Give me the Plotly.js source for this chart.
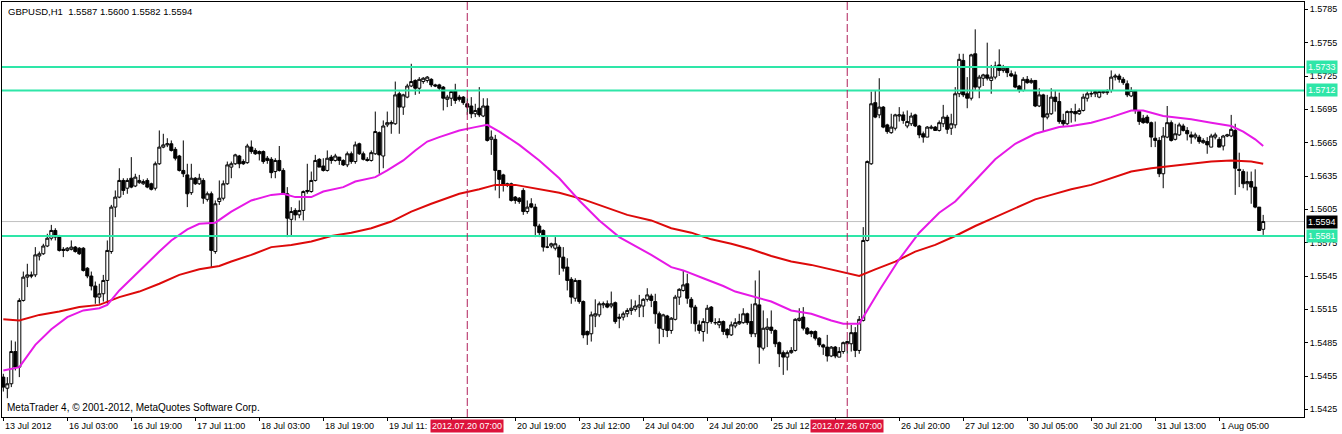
<!DOCTYPE html>
<html>
<head>
<meta charset="utf-8">
<script src="https://cdn.plot.ly/plotly-3.0.1.min.js"></script>
<style>html,body{margin:0;padding:0;background:#fff;}#chart{width:1342px;height:434px;}</style>
</head>
<body>
<div id="chart"></div>
<script>
// ---- GBPUSD H1 bars ----
const open = [
1.5454,1.5444,1.5448,1.5477,1.5463,1.5523,1.5544,1.5546,1.5546,1.5563,
1.5565,1.5572,1.5579,1.5586,1.5580,1.5569,1.5568,1.5569,1.5571,1.5570,
1.5570,1.5552,1.5545,1.5536,1.5526,1.5529,1.5541,1.5567,1.5607,1.5616,
1.5631,1.5624,1.5633,1.5626,1.5629,1.5628,1.5631,1.5628,1.5624,1.5646,
1.5661,1.5663,1.5664,1.5659,1.5653,1.5640,1.5636,1.5620,1.5633,1.5628,
1.5631,1.5614,1.5619,1.5567,1.5612,1.5615,1.5628,1.5643,1.5646,1.5653,
1.5648,1.5647,1.5661,1.5658,1.5657,1.5657,1.5651,1.5650,1.5639,1.5649,
1.5640,1.5619,1.5596,1.5604,1.5600,1.5604,1.5621,1.5621,1.5631,1.5650,
1.5644,1.5640,1.5652,1.5649,1.5652,1.5649,1.5645,1.5655,1.5648,1.5664,
1.5655,1.5650,1.5649,1.5655,1.5674,1.5653,1.5681,1.5682,1.5682,1.5709,
1.5697,1.5706,1.5716,1.5721,1.5714,1.5720,1.5721,1.5722,1.5717,1.5717,
1.5715,1.5704,1.5705,1.5712,1.5706,1.5706,1.5700,1.5698,1.5691,1.5696,
1.5689,1.5698,1.5668,1.5668,1.5640,1.5636,1.5628,1.5628,1.5616,1.5615,
1.5622,1.5603,1.5610,1.5607,1.5590,1.5586,1.5571,1.5572,1.5570,1.5571,
1.5562,1.5553,1.5542,1.5525,1.5541,1.5522,1.5495,1.5493,1.5509,1.5510,
1.5519,1.5520,1.5518,1.5521,1.5508,1.5508,1.5511,1.5514,1.5515,1.5517,
1.5518,1.5524,1.5527,1.5522,1.5511,1.5497,1.5509,1.5496,1.5506,1.5526,
1.5532,1.5538,1.5524,1.5517,1.5501,1.5495,1.5503,1.5517,1.5503,1.5501,
1.5504,1.5497,1.5492,1.5500,1.5502,1.5503,1.5511,1.5504,1.5493,1.5519,
1.5480,1.5497,1.5499,1.5496,1.5485,1.5476,1.5472,1.5476,1.5478,1.5505,
1.5508,1.5498,1.5495,1.5495,1.5489,1.5483,1.5481,1.5473,1.5481,1.5472,
1.5477,1.5484,1.5484,1.5494,1.5478,1.5505,1.5577,1.5646,1.5701,1.5690,
1.5697,1.5681,1.5674,1.5678,1.5689,1.5690,1.5680,1.5682,1.5690,1.5680,
1.5673,1.5670,1.5678,1.5679,1.5676,1.5682,1.5688,1.5678,1.5681,1.5709,
1.5739,1.5709,1.5705,1.5745,1.5715,1.5723,1.5726,1.5721,1.5724,1.5735,
1.5730,1.5732,1.5727,1.5726,1.5716,1.5712,1.5722,1.5719,1.5721,1.5698,
1.5708,1.5688,1.5691,1.5706,1.5702,1.5685,1.5682,1.5692,1.5693,1.5691,
1.5694,1.5705,1.5709,1.5709,1.5706,1.5710,1.5710,1.5712,1.5724,1.5725,
1.5722,1.5718,1.5707,1.5712,1.5693,1.5687,1.5688,1.5683,1.5669,1.5667,
1.5637,1.5670,1.5683,1.5668,1.5672,1.5680,1.5676,1.5672,1.5670,1.5670,
1.5665,1.5666,1.5661,1.5670,1.5668,1.5662,1.5671,1.5671,1.5676,1.5641,
1.5639,1.5628,1.5630,1.5625,1.5607,1.5587
];
const high = [
1.5457,1.5454,1.5487,1.5486,1.5525,1.5549,1.5556,1.5549,1.5571,1.5567,
1.5574,1.5583,1.5591,1.5588,1.5582,1.5571,1.5571,1.5577,1.5572,1.5571,
1.5571,1.5553,1.5549,1.5540,1.5538,1.5546,1.5577,1.5609,1.5622,1.5642,
1.5633,1.5633,1.5652,1.5637,1.5636,1.5632,1.5633,1.5629,1.5648,1.5676,
1.5673,1.5669,1.5667,1.5661,1.5654,1.5667,1.5646,1.5646,1.5634,1.5637,
1.5633,1.5621,1.5621,1.5613,1.5631,1.5631,1.5648,1.5648,1.5655,1.5654,
1.5650,1.5664,1.5667,1.5660,1.5658,1.5658,1.5653,1.5652,1.5651,1.5662,
1.5642,1.5625,1.5607,1.5606,1.5613,1.5622,1.5646,1.5639,1.5654,1.5651,
1.5651,1.5658,1.5654,1.5655,1.5652,1.5650,1.5657,1.5657,1.5666,1.5665,
1.5657,1.5652,1.5658,1.5693,1.5675,1.5685,1.5693,1.5685,1.5720,1.5711,
1.5709,1.5718,1.5736,1.5722,1.5724,1.5724,1.5725,1.5723,1.5718,1.5718,
1.5716,1.5708,1.5712,1.5718,1.5708,1.5707,1.5705,1.5706,1.5700,1.5715,
1.5705,1.5705,1.5676,1.5672,1.5640,1.5637,1.5629,1.5629,1.5617,1.5616,
1.5624,1.5613,1.5615,1.5610,1.5592,1.5587,1.5580,1.5575,1.5580,1.5573,
1.5571,1.5561,1.5544,1.5543,1.5541,1.5523,1.5496,1.5513,1.5524,1.5522,
1.5522,1.5523,1.5531,1.5522,1.5511,1.5513,1.5516,1.5524,1.5523,1.5528,
1.5525,1.5534,1.5529,1.5529,1.5513,1.5511,1.5510,1.5508,1.5528,1.5534,
1.5550,1.5547,1.5526,1.5519,1.5505,1.5507,1.5519,1.5518,1.5507,1.5507,
1.5505,1.5498,1.5504,1.5507,1.5511,1.5516,1.5512,1.5520,1.5541,1.5550,
1.5514,1.5507,1.5514,1.5497,1.5486,1.5478,1.5478,1.5481,1.5507,1.5516,
1.5517,1.5499,1.5496,1.5496,1.5490,1.5484,1.5492,1.5482,1.5482,1.5481,
1.5486,1.5487,1.5501,1.5499,1.5509,1.5589,1.5649,1.5711,1.5712,1.5723,
1.5698,1.5682,1.5691,1.5691,1.5697,1.5693,1.5694,1.5692,1.5691,1.5681,
1.5675,1.5680,1.5681,1.5680,1.5685,1.5699,1.5690,1.5691,1.5715,1.5745,
1.5745,1.5724,1.5745,1.5767,1.5726,1.5727,1.5755,1.5735,1.5738,1.5749,
1.5735,1.5733,1.5730,1.5729,1.5717,1.5724,1.5725,1.5723,1.5721,1.5714,
1.5709,1.5708,1.5714,1.5712,1.5710,1.5691,1.5694,1.5696,1.5700,1.5696,
1.5709,1.5711,1.5712,1.5712,1.5712,1.5712,1.5713,1.5730,1.5727,1.5727,
1.5724,1.5721,1.5715,1.5712,1.5694,1.5690,1.5690,1.5684,1.5684,1.5670,
1.5679,1.5698,1.5685,1.5682,1.5683,1.5682,1.5679,1.5675,1.5674,1.5672,
1.5669,1.5670,1.5673,1.5674,1.5670,1.5672,1.5673,1.5690,1.5682,1.5656,
1.5641,1.5639,1.5639,1.5641,1.5607,1.5600
];
const low = [
1.5441,1.5435,1.5445,1.5460,1.5454,1.5522,1.5535,1.5543,1.5544,1.5559,
1.5564,1.5571,1.5577,1.5577,1.5567,1.5562,1.5567,1.5568,1.5566,1.5564,
1.5549,1.5543,1.5532,1.5520,1.5520,1.5522,1.5520,1.5565,1.5598,1.5615,
1.5618,1.5619,1.5624,1.5625,1.5628,1.5627,1.5624,1.5622,1.5622,1.5645,
1.5660,1.5661,1.5657,1.5649,1.5639,1.5634,1.5607,1.5618,1.5627,1.5627,
1.5610,1.5612,1.5553,1.5565,1.5609,1.5613,1.5627,1.5633,1.5645,1.5642,
1.5645,1.5646,1.5655,1.5654,1.5649,1.5646,1.5646,1.5633,1.5633,1.5639,
1.5618,1.5580,1.5581,1.5595,1.5597,1.5595,1.5619,1.5620,1.5630,1.5643,
1.5639,1.5639,1.5646,1.5648,1.5645,1.5644,1.5643,1.5646,1.5646,1.5654,
1.5649,1.5648,1.5648,1.5654,1.5637,1.5642,1.5679,1.5673,1.5681,1.5673,
1.5690,1.5705,1.5715,1.5708,1.5709,1.5718,1.5719,1.5715,1.5715,1.5712,
1.5694,1.5697,1.5698,1.5700,1.5702,1.5699,1.5690,1.5687,1.5688,1.5688,
1.5688,1.5666,1.5654,1.5622,1.5615,1.5621,1.5625,1.5612,1.5610,1.5610,
1.5600,1.5601,1.5606,1.5580,1.5580,1.5567,1.5570,1.5570,1.5568,1.5546,
1.5549,1.5532,1.5520,1.5522,1.5520,1.5489,1.5483,1.5486,1.5499,1.5508,
1.5516,1.5516,1.5516,1.5502,1.5498,1.5505,1.5508,1.5510,1.5513,1.5508,
1.5508,1.5522,1.5517,1.5502,1.5484,1.5490,1.5490,1.5493,1.5505,1.5519,
1.5531,1.5520,1.5502,1.5495,1.5493,1.5486,1.5493,1.5502,1.5501,1.5498,
1.5492,1.5489,1.5491,1.5498,1.5501,1.5502,1.5501,1.5490,1.5490,1.5466,
1.5478,1.5481,1.5493,1.5481,1.5463,1.5456,1.5460,1.5475,1.5477,1.5504,
1.5496,1.5492,1.5490,1.5487,1.5481,1.5474,1.5468,1.5472,1.5471,1.5472,
1.5475,1.5475,1.5477,1.5472,1.5475,1.5504,1.5576,1.5645,1.5687,1.5687,
1.5678,1.5673,1.5673,1.5676,1.5684,1.5682,1.5678,1.5680,1.5679,1.5669,
1.5665,1.5670,1.5677,1.5676,1.5675,1.5679,1.5673,1.5672,1.5678,1.5706,
1.5706,1.5696,1.5703,1.5712,1.5705,1.5716,1.5721,1.5709,1.5722,1.5725,
1.5728,1.5724,1.5724,1.5714,1.5710,1.5711,1.5718,1.5718,1.5697,1.5697,
1.5675,1.5686,1.5690,1.5693,1.5682,1.5680,1.5681,1.5683,1.5684,1.5690,
1.5693,1.5702,1.5706,1.5706,1.5705,1.5709,1.5708,1.5710,1.5721,1.5719,
1.5717,1.5706,1.5706,1.5691,1.5681,1.5682,1.5682,1.5661,1.5661,1.5634,
1.5624,1.5669,1.5666,1.5667,1.5671,1.5675,1.5667,1.5664,1.5668,1.5664,
1.5664,1.5655,1.5661,1.5668,1.5661,1.5658,1.5670,1.5670,1.5618,1.5625,
1.5624,1.5622,1.5610,1.5606,1.5586,1.5582
];
const close = [
1.5445,1.5448,1.5477,1.5463,1.5523,1.5544,1.5546,1.5545,1.5564,1.5565,
1.5572,1.5579,1.5586,1.5580,1.5568,1.5568,1.5570,1.5571,1.5567,1.5565,
1.5550,1.5545,1.5536,1.5526,1.5529,1.5541,1.5568,1.5607,1.5616,1.5631,
1.5622,1.5631,1.5625,1.5634,1.5631,1.5630,1.5625,1.5623,1.5646,1.5661,
1.5663,1.5664,1.5658,1.5651,1.5640,1.5637,1.5619,1.5633,1.5628,1.5633,
1.5615,1.5619,1.5568,1.5610,1.5615,1.5628,1.5645,1.5646,1.5654,1.5646,
1.5646,1.5662,1.5657,1.5655,1.5655,1.5648,1.5649,1.5638,1.5649,1.5640,
1.5619,1.5597,1.5603,1.5600,1.5604,1.5621,1.5622,1.5631,1.5649,1.5643,
1.5640,1.5651,1.5649,1.5653,1.5649,1.5645,1.5655,1.5648,1.5663,1.5655,
1.5650,1.5649,1.5656,1.5675,1.5654,1.5680,1.5683,1.5683,1.5708,1.5697,
1.5708,1.5716,1.5720,1.5714,1.5722,1.5723,1.5724,1.5717,1.5716,1.5714,
1.5705,1.5706,1.5711,1.5703,1.5704,1.5701,1.5697,1.5691,1.5694,1.5690,
1.5698,1.5667,1.5670,1.5640,1.5632,1.5627,1.5627,1.5613,1.5613,1.5612,
1.5603,1.5607,1.5607,1.5590,1.5584,1.5571,1.5571,1.5574,1.5574,1.5562,
1.5552,1.5541,1.5526,1.5541,1.5522,1.5492,1.5492,1.5510,1.5511,1.5520,
1.5520,1.5517,1.5520,1.5504,1.5507,1.5511,1.5514,1.5516,1.5518,1.5519,
1.5524,1.5528,1.5523,1.5511,1.5498,1.5510,1.5496,1.5507,1.5526,1.5533,
1.5537,1.5525,1.5517,1.5502,1.5496,1.5504,1.5516,1.5504,1.5503,1.5504,
1.5495,1.5492,1.5501,1.5503,1.5504,1.5511,1.5503,1.5493,1.5520,1.5481,
1.5498,1.5499,1.5496,1.5484,1.5475,1.5472,1.5476,1.5478,1.5506,1.5507,
1.5498,1.5493,1.5493,1.5489,1.5483,1.5481,1.5473,1.5481,1.5473,1.5477,
1.5485,1.5486,1.5494,1.5478,1.5506,1.5577,1.5648,1.5700,1.5688,1.5697,
1.5679,1.5675,1.5679,1.5690,1.5690,1.5685,1.5684,1.5689,1.5680,1.5672,
1.5670,1.5679,1.5679,1.5676,1.5683,1.5688,1.5677,1.5682,1.5709,1.5740,
1.5708,1.5705,1.5744,1.5715,1.5724,1.5726,1.5723,1.5724,1.5734,1.5730,
1.5732,1.5728,1.5725,1.5715,1.5712,1.5722,1.5719,1.5721,1.5698,1.5708,
1.5688,1.5691,1.5706,1.5702,1.5684,1.5682,1.5693,1.5693,1.5691,1.5694,
1.5706,1.5709,1.5709,1.5711,1.5711,1.5711,1.5711,1.5724,1.5725,1.5722,
1.5719,1.5708,1.5712,1.5694,1.5684,1.5683,1.5683,1.5670,1.5667,1.5637,
1.5671,1.5683,1.5667,1.5673,1.5681,1.5676,1.5673,1.5670,1.5672,1.5666,
1.5667,1.5663,1.5671,1.5672,1.5661,1.5671,1.5672,1.5677,1.5642,1.5640,
1.5628,1.5630,1.5625,1.5607,1.5586,1.5594
];

const fastMaBars = [0,4,8,12,16,20,24,26,29,33,36,39,42,46,49,53,57,62,67,70,73,77,80,85,88,93,96,100,103,106,109,114,118,121,124,129,134,139,144,149,154,159,162,167,170,175,180,183,188,192,197,202,207,210,214,216,219,224,229,234,238,243,248,253,258,264,267,272,277,282,285,290,297,302,307,310,313,315];
const fastMa = [1.5460,1.5463,1.5483,1.5497,1.5508,1.5514,1.5516,1.5519,1.5532,1.5546,1.5557,1.5567,1.5577,1.5587,1.5592,1.5593,1.5603,1.5613,1.5618,1.5619,1.5616,1.5616,1.5621,1.5625,1.5630,1.5634,1.5640,1.5649,1.5658,1.5666,1.5670,1.5676,1.5679,1.5681,1.5675,1.5663,1.5649,1.5633,1.5613,1.5595,1.5580,1.5570,1.5564,1.5553,1.5550,1.5543,1.5536,1.5531,1.5526,1.5522,1.5514,1.5511,1.5505,1.5502,1.5502,1.5514,1.5532,1.5560,1.5584,1.5602,1.5612,1.5631,1.5650,1.5664,1.5673,1.5679,1.5680,1.5683,1.5688,1.5694,1.5694,1.5689,1.5686,1.5683,1.5680,1.5675,1.5668,1.5662];
const slowMaBars = [0,4,9,14,19,24,29,34,39,44,49,54,57,62,67,72,77,82,87,92,97,102,107,114,119,123,128,133,139,145,151,156,162,167,172,177,182,187,192,197,202,207,210,214,218,223,228,233,238,243,248,253,258,262,267,272,277,282,287,292,297,302,307,312,315];
const slowMa = [1.5506,1.5505,1.5510,1.5513,1.5517,1.5519,1.5526,1.5531,1.5538,1.5546,1.5551,1.5554,1.5558,1.5564,1.5571,1.5573,1.5576,1.5581,1.5584,1.5588,1.5594,1.5603,1.5610,1.5619,1.5623,1.5627,1.5627,1.5624,1.5620,1.5614,1.5606,1.5600,1.5595,1.5588,1.5584,1.5578,1.5574,1.5569,1.5563,1.5558,1.5555,1.5551,1.5548,1.5545,1.5551,1.5558,1.5567,1.5573,1.5581,1.5590,1.5598,1.5606,1.5614,1.5618,1.5623,1.5627,1.5633,1.5639,1.5642,1.5644,1.5646,1.5648,1.5649,1.5648,1.5646];

// ---- axis labels, levels, markers ----
const timeTickBars = [0,16,32,48,64,80,96,112,128,144,160,176,192,208,224,240,256,272,288,304];
const timeTickLabels = ['13 Jul 2012','16 Jul 03:00','16 Jul 19:00','17 Jul 11:00','18 Jul 03:00','18 Jul 19:00','19 Jul 11:','','20 Jul 19:00','23 Jul 12:00','24 Jul 04:00','24 Jul 20:00','25 Jul 12','','26 Jul 20:00','27 Jul 12:00','30 Jul 05:00','30 Jul 21:00','31 Jul 13:00','1 Aug 05:00'];
const priceTicks = [1.5425,1.5455,1.5485,1.5515,1.5545,1.5575,1.5605,1.5635,1.5665,1.5695,1.5725,1.5755,1.5785];
const levelLines = [1.5733,1.5712,1.5581];
const lastPrice = 1.5594;
const markerBars = [116,211];
const markerLabels = ['2012.07.20 07:00','2012.07.26 07:00'];
const headerText = 'GBPUSD,H1  1.5587 1.5600 1.5582 1.5594';
const footerText = 'MetaTrader 4, \u00a9 2001-2012, MetaQuotes Software Corp.';

const FONT = 'Liberation Sans, Arial, sans-serif';
const bars = close.map((_, i) => i);

const traces = [
  {
    type: 'candlestick', x: bars, open: open, high: high, low: low, close: close,
    increasing: {line: {color: '#000000', width: 1}, fillcolor: '#ffffff'},
    decreasing: {line: {color: '#000000', width: 1}, fillcolor: '#000000'},
    whiskerwidth: 0, hoverinfo: 'skip', showlegend: false
  },
  {type: 'scatter', mode: 'lines', x: slowMaBars, y: slowMa, line: {color: '#DD0A0A', width: 2}, hoverinfo: 'skip'},
  {type: 'scatter', mode: 'lines', x: fastMaBars, y: fastMa, line: {color: '#E619E6', width: 2}, hoverinfo: 'skip'}
];

const shapes = [];
shapes.push({type: 'line', layer: 'below', xref: 'paper', x0: 0, x1: 1, yref: 'y', y0: lastPrice, y1: lastPrice, line: {color: '#C0C0C0', width: 1}});
levelLines.forEach(v => shapes.push({type: 'line', xref: 'paper', x0: 0, x1: 1, yref: 'y', y0: v, y1: v, line: {color: '#2EE6A8', width: 2}}));
markerBars.forEach(b => shapes.push({type: 'line', xref: 'x', x0: b, x1: b, yref: 'paper', y0: 0, y1: 1, line: {color: '#B0205A', width: 1, dash: '8px,3px'}}));

const annotations = [];
annotations.push({xref: 'paper', yref: 'paper', x: 0, y: 1, xanchor: 'left', yanchor: 'top', xshift: 4, yshift: -2, text: headerText, showarrow: false, font: {family: FONT, size: 9.5, color: '#000'}});
annotations.push({xref: 'paper', yref: 'paper', x: 0, y: 0, xanchor: 'left', yanchor: 'bottom', xshift: 3, yshift: 2, text: footerText, showarrow: false, font: {family: FONT, size: 10, color: '#000'}});
timeTickBars.forEach((b, k) => {
  if (!timeTickLabels[k]) return;
  annotations.push({xref: 'x', yref: 'paper', x: b, y: 0, xanchor: 'left', yanchor: 'top', xshift: 0, yshift: -2, text: timeTickLabels[k], showarrow: false, borderpad: 1, font: {family: FONT, size: 9, color: '#000'}});
});
markerBars.forEach((b, k) => {
  annotations.push({xref: 'x', yref: 'paper', x: b, y: 0, xanchor: 'center', yanchor: 'top', yshift: -2, text: markerLabels[k], showarrow: false, bgcolor: '#DC143C', borderpad: 1, font: {family: FONT, size: 9, color: '#ffffff'}});
});
levelLines.forEach(v => annotations.push({xref: 'paper', yref: 'y', x: 1, y: v, xanchor: 'left', yanchor: 'middle', xshift: 2, text: v.toFixed(4), showarrow: false, bgcolor: '#2EE6A8', borderpad: 1, font: {family: FONT, size: 9, color: '#ffffff'}}));
annotations.push({xref: 'paper', yref: 'y', x: 1, y: lastPrice, xanchor: 'left', yanchor: 'middle', xshift: 2, text: lastPrice.toFixed(4), showarrow: false, bgcolor: '#000000', borderpad: 1, font: {family: FONT, size: 9, color: '#ffffff'}});

const layout = {
  width: 1342, height: 434,
  margin: {l: 2, r: 38, t: 2, b: 17, pad: 0},
  paper_bgcolor: '#ffffff', plot_bgcolor: '#ffffff',
  showlegend: false,
  boxgap: 0.25, boxgroupgap: 0,
  xaxis: {
    range: [-0.33, 325.2], showgrid: false, zeroline: false,
    showline: true, mirror: true, linecolor: '#000', linewidth: 1,
    ticks: 'outside', ticklen: 3, tickcolor: '#000', tickwidth: 1,
    tickmode: 'array', tickvals: timeTickBars, showticklabels: false,
    rangeslider: {visible: false}, fixedrange: true
  },
  yaxis: {
    side: 'right', range: [1.54181, 1.57916], showgrid: false, zeroline: false,
    showline: true, mirror: true, linecolor: '#000', linewidth: 1,
    ticks: 'outside', ticklen: 3, tickcolor: '#000', tickwidth: 1,
    tickmode: 'array', tickvals: priceTicks, ticktext: priceTicks.map(v => v.toFixed(4)),
    tickfont: {family: FONT, size: 9, color: '#000'}, fixedrange: true
  },
  shapes: shapes,
  annotations: annotations
};

Plotly.newPlot('chart', traces, layout, {displayModeBar: false, staticPlot: true});
</script>
</body>
</html>
